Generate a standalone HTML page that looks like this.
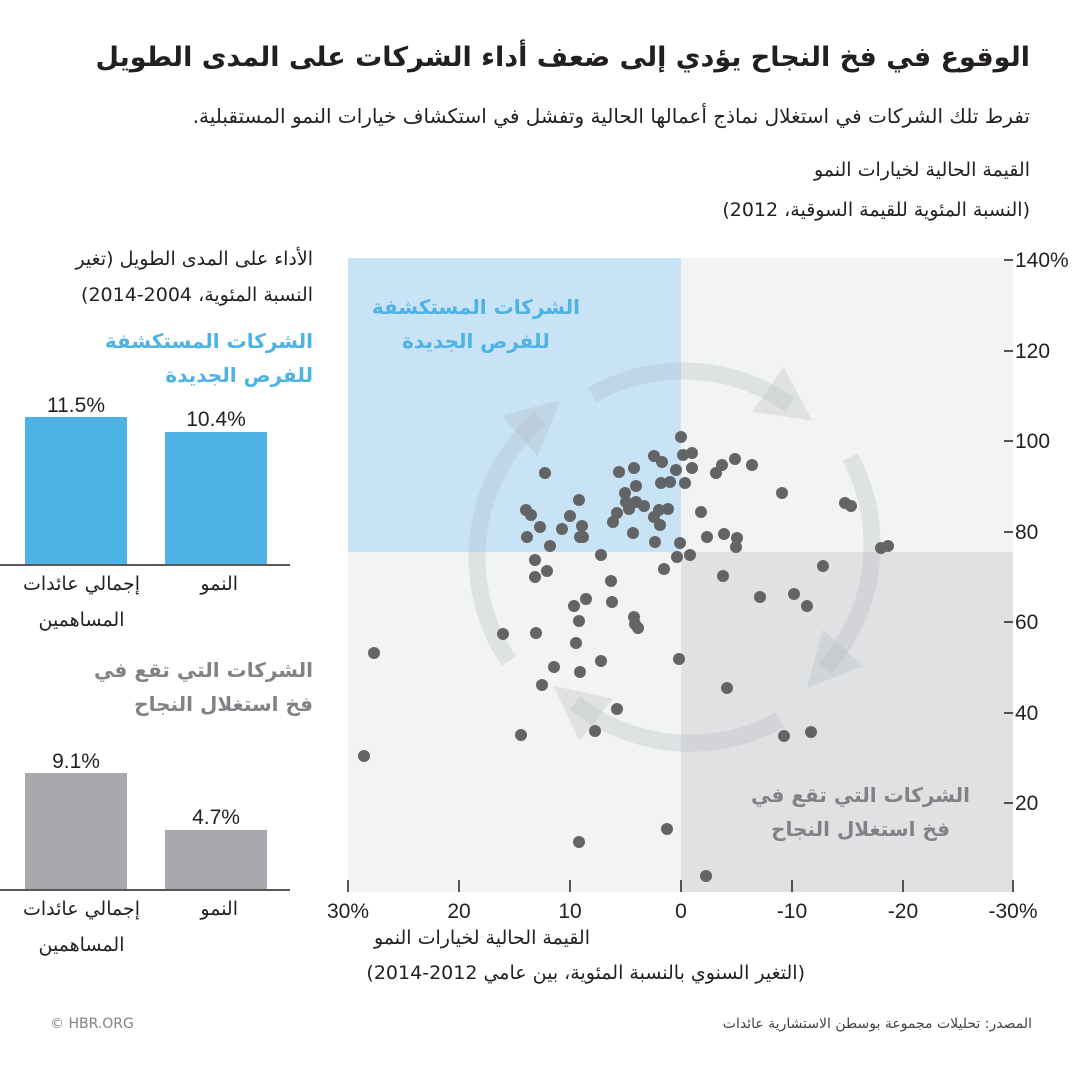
<!DOCTYPE html>
<html><head><meta charset="utf-8">
<style>
body{margin:0;width:1080px;height:1080px;background:#fff;overflow:hidden;position:relative;font-family:"DejaVu Sans","Liberation Sans",sans-serif;color:#231f20}
.t{position:absolute;white-space:nowrap;direction:rtl}
svg{position:absolute;left:0;top:0}
</style></head><body>
<svg width="1080" height="1080" viewBox="0 0 1080 1080" font-family="Liberation Sans, DejaVu Sans, sans-serif">
<defs>
<marker id="ah" viewBox="0 0 10 10" refX="5" refY="5" markerWidth="3.2" markerHeight="3.2" orient="auto"><path d="M0,0 L10,5 L0,10 z" fill="#b4b9be" fill-opacity="0.3"/></marker>
</defs>
<rect x="348" y="258" width="333" height="294" fill="#c8e2f6"/>
<rect x="681" y="258" width="332" height="294" fill="#f2f3f3"/>
<rect x="348" y="552" width="333" height="340" fill="#f2f3f3"/>
<rect x="681" y="552" width="332" height="340" fill="#e0e1e3"/>
<g fill="none" stroke="#a9aeb3" stroke-opacity="0.25" stroke-width="17" marker-end="url(#ah)">
<path d="M509,661 A185,185 0 0 1 540,418"/>
<path d="M592,395 A185,185 0 0 1 790,405"/>
<path d="M850,457 A185,185 0 0 1 825,668"/>
<path d="M780,720 A185,185 0 0 1 575,703"/>
</g>
<g fill="#636466">
<circle cx="681" cy="437" r="6"/><circle cx="692" cy="453" r="6"/><circle cx="683" cy="455" r="6"/><circle cx="654" cy="456" r="6"/><circle cx="662" cy="462" r="6"/><circle cx="676" cy="470" r="6"/><circle cx="692" cy="468" r="6"/><circle cx="634" cy="468" r="6"/><circle cx="619" cy="472" r="6"/><circle cx="545" cy="473" r="6"/><circle cx="735" cy="459" r="6"/><circle cx="722" cy="465" r="6"/><circle cx="716" cy="473" r="6"/><circle cx="752" cy="465" r="6"/><circle cx="636" cy="486" r="6"/><circle cx="661" cy="483" r="6"/><circle cx="670" cy="482" r="6"/><circle cx="685" cy="483" r="6"/><circle cx="579" cy="500" r="6"/><circle cx="625" cy="493" r="6"/><circle cx="626" cy="502" r="6"/><circle cx="636" cy="502" r="6"/><circle cx="644" cy="506" r="6"/><circle cx="629" cy="509" r="6"/><circle cx="617" cy="513" r="6"/><circle cx="613" cy="522" r="6"/><circle cx="659" cy="510" r="6"/><circle cx="668" cy="509" r="6"/><circle cx="654" cy="517" r="6"/><circle cx="660" cy="525" r="6"/><circle cx="526" cy="510" r="6"/><circle cx="531" cy="515" r="6"/><circle cx="570" cy="516" r="6"/><circle cx="540" cy="527" r="6"/><circle cx="562" cy="529" r="6"/><circle cx="582" cy="526" r="6"/><circle cx="580" cy="537" r="6"/><circle cx="583" cy="537" r="6"/><circle cx="527" cy="537" r="6"/><circle cx="633" cy="533" r="6"/><circle cx="655" cy="542" r="6"/><circle cx="680" cy="543" r="6"/><circle cx="550" cy="546" r="6"/><circle cx="601" cy="555" r="6"/><circle cx="677" cy="557" r="6"/><circle cx="690" cy="555" r="6"/><circle cx="701" cy="512" r="6"/><circle cx="707" cy="537" r="6"/><circle cx="724" cy="534" r="6"/><circle cx="737" cy="538" r="6"/><circle cx="736" cy="547" r="6"/><circle cx="782" cy="493" r="6"/><circle cx="845" cy="503" r="6"/><circle cx="851" cy="506" r="6"/><circle cx="881" cy="548" r="6"/><circle cx="888" cy="546" r="6"/><circle cx="535" cy="560" r="6"/><circle cx="547" cy="571" r="6"/><circle cx="535" cy="577" r="6"/><circle cx="664" cy="569" r="6"/><circle cx="611" cy="581" r="6"/><circle cx="612" cy="602" r="6"/><circle cx="723" cy="576" r="6"/><circle cx="823" cy="566" r="6"/><circle cx="760" cy="597" r="6"/><circle cx="794" cy="594" r="6"/><circle cx="807" cy="606" r="6"/><circle cx="586" cy="599" r="6"/><circle cx="574" cy="606" r="6"/><circle cx="579" cy="621" r="6"/><circle cx="634" cy="617" r="6"/><circle cx="635" cy="624" r="6"/><circle cx="638" cy="628" r="6"/><circle cx="503" cy="634" r="6"/><circle cx="536" cy="633" r="6"/><circle cx="576" cy="643" r="6"/><circle cx="374" cy="653" r="6"/><circle cx="679" cy="659" r="6"/><circle cx="601" cy="661" r="6"/><circle cx="554" cy="667" r="6"/><circle cx="580" cy="672" r="6"/><circle cx="542" cy="685" r="6"/><circle cx="727" cy="688" r="6"/><circle cx="617" cy="709" r="6"/><circle cx="595" cy="731" r="6"/><circle cx="521" cy="735" r="6"/><circle cx="784" cy="736" r="6"/><circle cx="811" cy="732" r="6"/><circle cx="364" cy="756" r="6"/><circle cx="667" cy="829" r="6"/><circle cx="579" cy="842" r="6"/><circle cx="706" cy="876" r="6"/>
</g>
<g stroke="#231f20" stroke-width="1.5">
<line x1="348" y1="880" x2="348" y2="892"/><line x1="459" y1="880" x2="459" y2="892"/><line x1="570" y1="880" x2="570" y2="892"/><line x1="681" y1="880" x2="681" y2="892"/><line x1="792" y1="880" x2="792" y2="892"/><line x1="903" y1="880" x2="903" y2="892"/><line x1="1013" y1="880" x2="1013" y2="892"/>
<line x1="1004" y1="260" x2="1013" y2="260"/><line x1="1004" y1="351" x2="1013" y2="351"/><line x1="1004" y1="441" x2="1013" y2="441"/><line x1="1004" y1="532" x2="1013" y2="532"/><line x1="1004" y1="622" x2="1013" y2="622"/><line x1="1004" y1="713" x2="1013" y2="713"/><line x1="1004" y1="803" x2="1013" y2="803"/>
<line x1="0" y1="565" x2="290" y2="565"/><line x1="0" y1="890" x2="290" y2="890"/>
</g>
<g font-size="21" fill="#231f20">
<text x="1015" y="267">140%</text><text x="1015" y="358">120</text><text x="1015" y="448">100</text><text x="1015" y="539">80</text><text x="1015" y="629">60</text><text x="1015" y="720">40</text><text x="1015" y="810">20</text>
<g text-anchor="middle"><text x="348" y="918">30%</text><text x="459" y="918">20</text><text x="570" y="918">10</text><text x="681" y="918">0</text><text x="792" y="918">-10</text><text x="903" y="918">-20</text><text x="1013" y="918">-30%</text>
<text x="76" y="412">11.5%</text><text x="216" y="426">10.4%</text><text x="76" y="768">9.1%</text><text x="216" y="824">4.7%</text></g>
</g>
<rect x="25" y="417" width="102" height="147" fill="#4db3e6"/>
<rect x="165" y="432" width="102" height="132" fill="#4db3e6"/>
<rect x="25" y="773" width="102" height="116" fill="#a7a9ac"/>
<rect x="165" y="830" width="102" height="59" fill="#a7a9ac"/>
</svg>
<div class="t" style="right:50px;top:42px;font-size:27px;font-weight:bold">الوقوع في فخ النجاح يؤدي إلى ضعف أداء الشركات على المدى الطويل</div>
<div class="t" style="right:50px;top:104px;font-size:20px">تفرط تلك الشركات في استغلال نماذج أعمالها الحالية وتفشل في استكشاف خيارات النمو المستقبلية.</div>
<div class="t" style="right:50px;top:150px;font-size:19px;line-height:40px">القيمة الحالية لخيارات النمو<br>(النسبة المئوية للقيمة السوقية، 2012)</div>
<div class="t" style="right:767px;top:241px;font-size:19px;line-height:36px">الأداء على المدى الطويل (تغير<br>النسبة المئوية، 2004-2014)</div>
<div class="t" style="right:767px;top:324px;font-size:20px;line-height:34px;font-weight:bold;color:#4db3e6">الشركات المستكشفة<br>للفرص الجديدة</div>
<div class="t" style="right:767px;top:653px;font-size:20px;line-height:34px;font-weight:bold;color:#808285">الشركات التي تقع في<br>فخ استغلال النجاح</div>
<div class="t" style="right:500px;top:290px;font-size:20px;line-height:34px;font-weight:bold;color:#4db3e6;text-align:center">الشركات المستكشفة<br>للفرص الجديدة</div>
<div class="t" style="right:110px;top:778px;font-size:20px;line-height:34px;font-weight:bold;color:#808285;text-align:center">الشركات التي تقع في<br>فخ استغلال النجاح</div>
<div class="t" style="right:940px;top:566px;font-size:19px;line-height:36px;text-align:center">إجمالي عائدات<br>المساهمين</div>
<div class="t" style="right:842px;top:566px;font-size:19px;line-height:36px">النمو</div>
<div class="t" style="right:940px;top:891px;font-size:19px;line-height:36px;text-align:center">إجمالي عائدات<br>المساهمين</div>
<div class="t" style="right:842px;top:891px;font-size:19px;line-height:36px">النمو</div>
<div class="t" style="right:490px;top:927px;font-size:19px">القيمة الحالية لخيارات النمو</div>
<div class="t" style="right:275px;top:962px;font-size:19px">(التغير السنوي بالنسبة المئوية، بين عامي 2012-2014)</div>
<div class="t" style="left:50px;top:1016px;font-size:14px;color:#808285;direction:ltr">© HBR.ORG</div>
<div class="t" style="right:48px;top:1016px;font-size:14px;color:#444">المصدر: تحليلات مجموعة بوسطن الاستشارية عائدات</div>
</body></html>
